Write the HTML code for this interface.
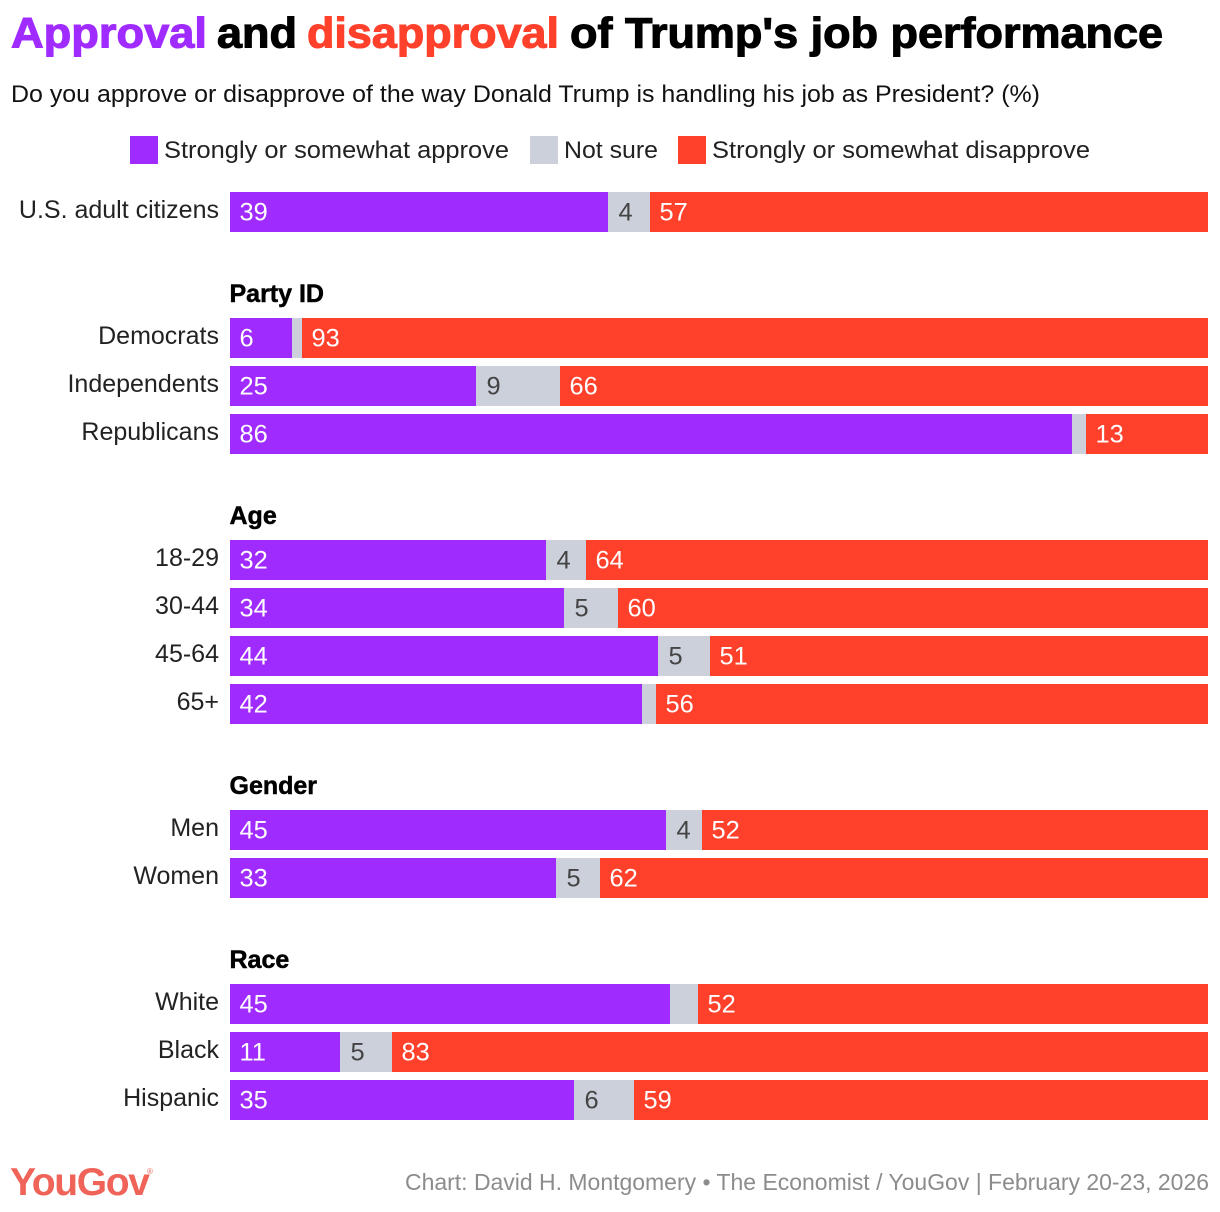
<!DOCTYPE html>
<html lang="en">
<head>
<meta charset="utf-8">
<title>Approval and disapproval of Trump's job performance</title>
<style>
html,body{margin:0;padding:0;background:#fff;width:1220px;height:1212px;overflow:hidden}
svg{display:block}
text{font-family:"Liberation Sans",sans-serif}
rect{shape-rendering:crispEdges}
</style>
</head>
<body>
<svg id="chart" width="1220" height="1212" viewBox="0 0 1220 1212" xmlns="http://www.w3.org/2000/svg">
  <g font-size="43" font-weight="700" stroke-width="1.1">
    <text x="11" y="47.5" fill="#a02bff" stroke="#a02bff" textLength="196" lengthAdjust="spacingAndGlyphs">Approval</text>
    <text x="217" y="47.5" fill="#000" stroke="#000" textLength="80" lengthAdjust="spacingAndGlyphs">and</text>
    <text x="307" y="47.5" fill="#ff412c" stroke="#ff412c" textLength="252" lengthAdjust="spacingAndGlyphs">disapproval</text>
    <text x="570" y="47.5" fill="#000" stroke="#000" textLength="593" lengthAdjust="spacingAndGlyphs">of Trump's job performance</text>
  </g>
  <text x="11" y="102" font-size="24.5" fill="#111" textLength="1029" lengthAdjust="spacingAndGlyphs">Do you approve or disapprove of the way Donald Trump is handling his job as President? (%)</text>
  <g font-size="24.5" fill="#222">
    <g>
      <rect x="130" y="136" width="28" height="28" fill="#a02bff"/>
      <text x="164" y="158" textLength="345" lengthAdjust="spacingAndGlyphs">Strongly or somewhat approve</text>
    </g>
    <g>
      <rect x="530" y="136" width="28" height="28" fill="#cbd0da"/>
      <text x="564" y="158" textLength="94" lengthAdjust="spacingAndGlyphs">Not sure</text>
    </g>
    <g>
      <rect x="678" y="136" width="28" height="28" fill="#ff412c"/>
      <text x="712" y="158" textLength="378" lengthAdjust="spacingAndGlyphs">Strongly or somewhat disapprove</text>
    </g>
  </g>
  <g id="rows"></g>
  <g fill="#ef6358">
    <text x="10" y="1195" font-size="39" font-weight="700" textLength="140" lengthAdjust="spacing">YouGov</text>
    <text x="147" y="1174" font-size="8">®</text>
  </g>
  <text x="405" y="1190" font-size="23" fill="#8c8c8c" textLength="804" lengthAdjust="spacingAndGlyphs">Chart: David H. Montgomery • The Economist / YouGov | February 20-23, 2026</text>
</svg>
<script>
const groupHeaders = ["", "Party ID", "Age", "Gender", "Race"];
const groupOf = [0, 1, 1, 1, 2, 2, 2, 2, 3, 3, 4, 4, 4];
const categories = ["U.S. adult citizens", "Democrats", "Independents", "Republicans", "18-29", "30-44", "45-64", "65+", "Men", "Women", "White", "Black", "Hispanic"];
const approve = [38.65, 6.34, 25.15, 86.09, 32.31, 34.15, 43.76, 42.13, 44.58, 33.33, 44.99, 11.25, 35.17];
const notSure = [4.29, 1.02, 8.59, 1.44, 4.09, 5.52, 5.32, 1.43, 3.68, 4.5, 2.86, 5.31, 6.14];
const disapprove = [57.06, 92.64, 66.26, 12.47, 63.6, 60.33, 50.92, 56.44, 51.74, 62.17, 52.15, 83.44, 58.69];
const approveLabels = ["39", "6", "25", "86", "32", "34", "44", "42", "45", "33", "45", "11", "35"];
const notSureLabels = ["4", "", "9", "", "4", "5", "5", "", "4", "5", "", "5", "6"];
const disapproveLabels = ["57", "93", "66", "13", "64", "60", "51", "56", "52", "62", "52", "83", "59"];

const NS = "http://www.w3.org/2000/svg";
const rowsLayer = document.getElementById("rows");
const plotLeft = 230, plotWidth = 978, barH = 40, rowStep = 48, groupGap = 126, firstTop = 192;
const xScale = function (v, total) { return v / total * plotWidth; };

function svgEl(tag, attrs, parent) {
  const el = document.createElementNS(NS, tag);
  for (const k in attrs) el.setAttribute(k, attrs[k]);
  parent.appendChild(el);
  return el;
}

function slug(s) { return s.toLowerCase().replace(/[^a-z0-9]+/g, "-").replace(/^-|-$/g, ""); }

function drawSegment(parent, key, x, w, rowTop, fill, label, labelFill) {
  const r = svgEl("rect", { x: x, y: rowTop, width: w, height: barH, fill: fill }, parent);
  
  
  if (label) {
    const t = svgEl("text", { x: x + (key === "not-sure" ? 10.5 : 9.5), y: rowTop + 28.5, "font-size": 25.4, fill: labelFill }, parent);
    
    
    t.textContent = label;
  }
}

let rowY = firstTop;
categories.forEach(function (name, i) {
  if (i > 0) rowY += groupOf[i] !== groupOf[i - 1] ? groupGap : rowStep;
  if (i === 0 || groupOf[i] !== groupOf[i - 1]) {
    const header = groupHeaders[groupOf[i]];
    if (header) {
      const h = svgEl("text", { x: 229.5, y: rowY - 16, "font-size": 25, "font-weight": 700, fill: "#000", stroke: "#000", "stroke-width": 0.5 }, rowsLayer);
      
      
      h.textContent = header;
    }
  }
  const row = svgEl("g", {}, rowsLayer);
  
  
  const cat = svgEl("text", { x: 219, y: rowY + 26, "font-size": 25, "text-anchor": "end", fill: "#222" }, row);
  
  
  cat.textContent = name;
  const total = approve[i] + notSure[i] + disapprove[i];
  const w1 = xScale(approve[i], total), w2 = xScale(notSure[i], total), w3 = xScale(disapprove[i], total);
  drawSegment(row, "approve", plotLeft, w1, rowY, "#a02bff", approveLabels[i], "#fff");
  drawSegment(row, "not-sure", plotLeft + w1, w2, rowY, "#cbd0da", notSureLabels[i], "#444");
  drawSegment(row, "disapprove", plotLeft + w1 + w2, w3, rowY, "#ff412c", disapproveLabels[i], "#fff");
});
</script>
</body>
</html>
